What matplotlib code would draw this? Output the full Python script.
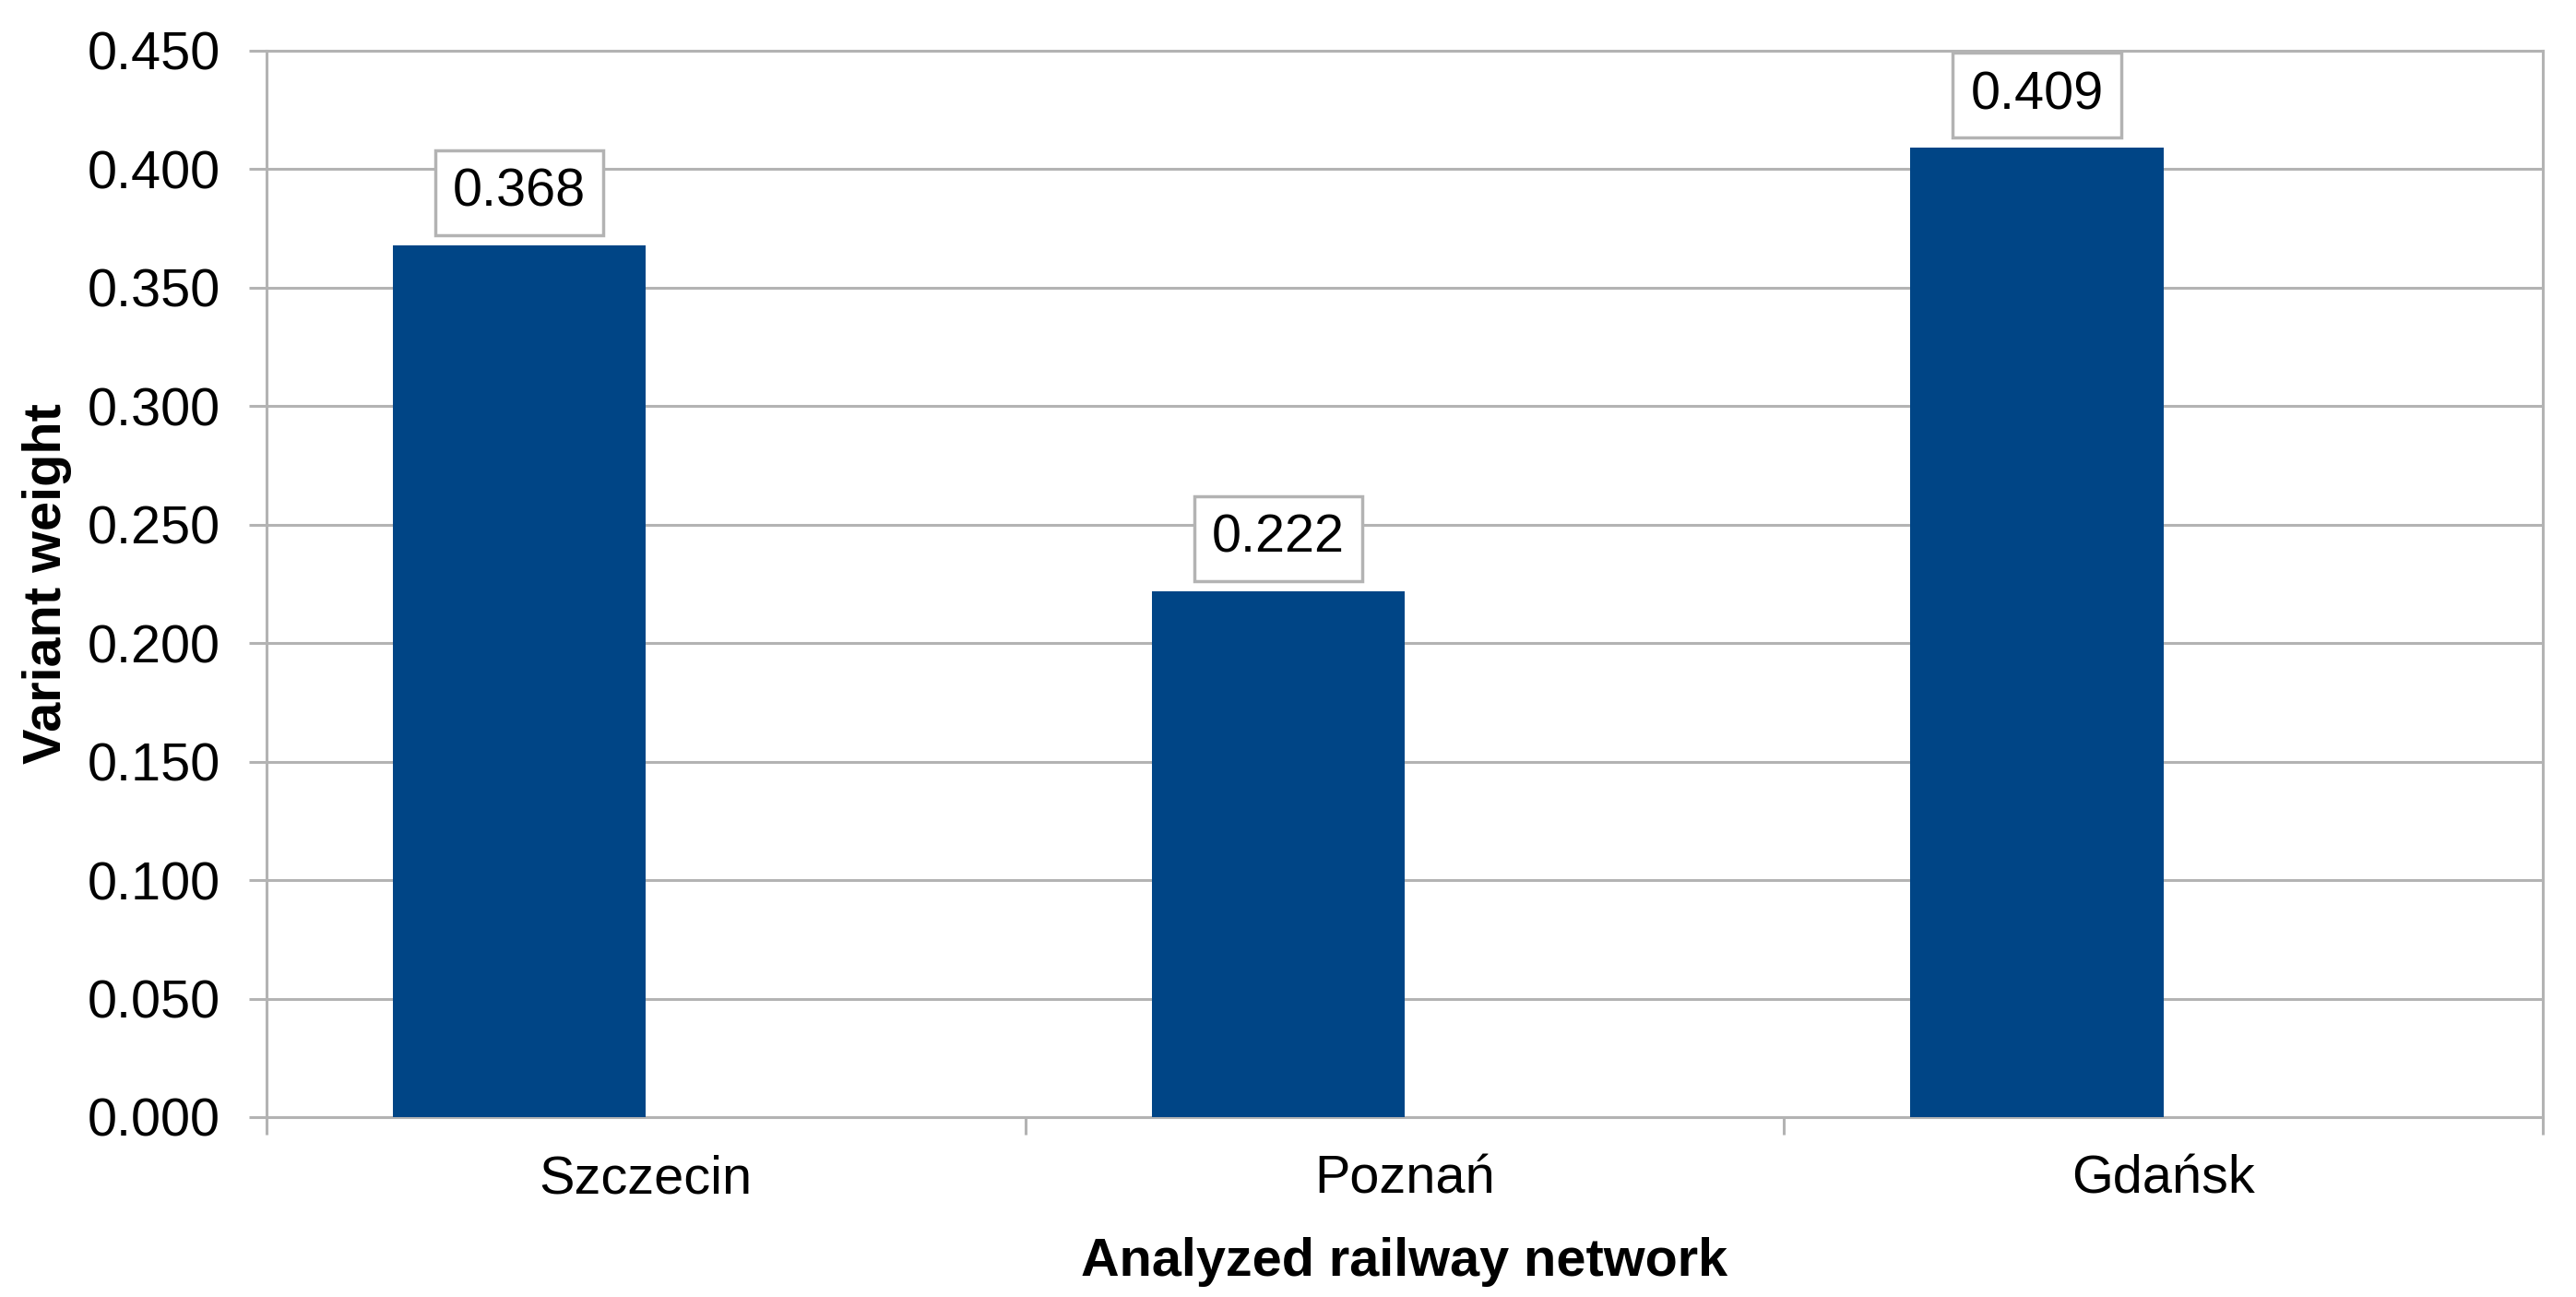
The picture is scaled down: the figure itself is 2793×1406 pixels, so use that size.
import numpy as np
import matplotlib
matplotlib.use("Agg")
import matplotlib.pyplot as plt

# data
cities = ["Szczecin", "Poznań", "Gdańsk"]
weights = [0.368, 0.222, 0.409]
y_ticks = [0.0, 0.05, 0.10, 0.15, 0.20, 0.25, 0.30, 0.35, 0.40, 0.45]

bar_color = "#004586"
grid_color = "#b3b3b3"
fs = 41.5

plt.rcParams['font.family'] = ['Liberation Sans', 'DejaVu Sans']

fig = plt.figure(figsize=(27.93, 14.06), dpi=100)
ax = fig.add_axes([0.1035, 0.1387, 0.8836, 0.8222])

x = np.arange(len(cities))
width = 1 / 3
# bars sit left of the category centre (second series slot is empty)
bars = ax.bar(x - width / 2, weights, width=width, color=bar_color, zorder=3)

for xi, w in zip(x - width / 2, weights):
    ax.annotate(f"{w:.3f}", xy=(xi, w), xytext=(0, 41), textcoords="offset points",
                ha="center", va="center", fontsize=fs, zorder=5,
                bbox=dict(boxstyle="square,pad=0.33", fc="white", ec=grid_color, lw=2.5))

ax.set_xlim(-0.5, len(cities) - 0.5)
ax.set_ylim(0, 0.45)
ax.set_yticks(y_ticks)
ax.set_yticklabels([f"{t:.3f}" for t in y_ticks])
ax.yaxis.grid(True, color=grid_color, linewidth=2.2, zorder=0)

# major ticks at category boundaries, labels at the centres
ax.set_xticks(np.arange(-0.5, len(cities), 1.0))
ax.set_xticklabels([])
ax.set_xticks(x, minor=True)
ax.set_xticklabels(cities, minor=True)
ax.tick_params(axis="x", which="minor", length=0, pad=29, labelsize=fs)
ax.tick_params(axis="x", which="major", length=14, width=2.2, color=grid_color)
ax.tick_params(axis="y", length=14, width=2.2, color=grid_color, pad=22, labelsize=fs)

for s in ax.spines.values():
    s.set_color(grid_color)
    s.set_linewidth(2.2)

ax.set_ylabel("Variant weight", fontsize=fs, fontweight="bold")
ax.yaxis.set_label_coords(-0.0855, 0.5)
ax.set_xlabel("Analyzed railway network", fontsize=fs, fontweight="bold")
ax.xaxis.set_label_coords(0.5, -0.1126)

fig.savefig("out.png", dpi=100)
